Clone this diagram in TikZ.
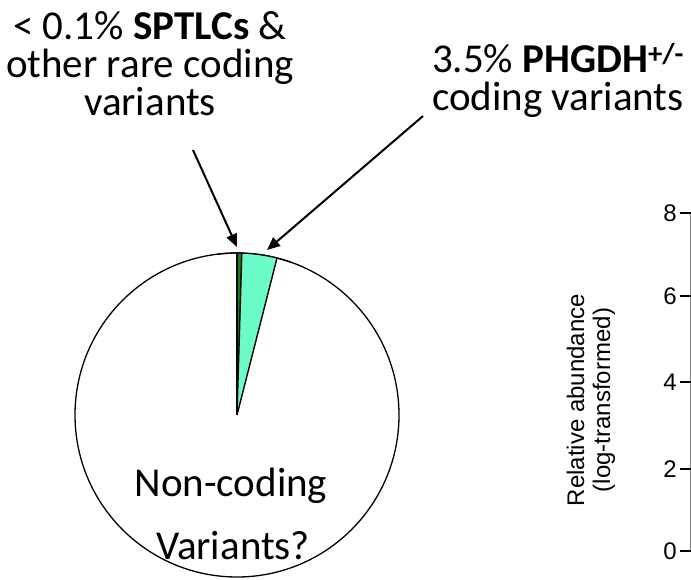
\documentclass[tikz,border=0pt]{standalone}
\usepackage{fontspec}
\setmainfont{Carlito}
\newfontfamily\axisfont{Liberation Sans}
\usetikzlibrary{arrows.meta}
\definecolor{rarecol}{HTML}{1E7D1E}
\definecolor{phgcol}{HTML}{6CFCC8}
\begin{document}
% y grows downwards here, so an angle of -90 points up
\begin{tikzpicture}[x=1pt,y=-1pt,
  callout/.style={font=\fontsize{41}{38}\selectfont, align=center, inner sep=0pt},
  pointer/.style={line width=2pt, -{Triangle[length=13pt,width=11pt]}},
  slice/.style={draw=black, line width=1.4pt},
  ticklab/.style={font=\axisfont\fontsize{24}{24}\selectfont, anchor=east, inner sep=0pt},
  axlab/.style={font=\axisfont\fontsize{24}{26}\selectfont, align=center, rotate=90, inner sep=0pt}]
\useasboundingbox (0,0) rectangle (691,579);

% pie chart
\coordinate (c) at (237,415);
\draw[line width=1.3pt, fill=white] (c) circle[radius=162];
\fill[phgcol] (c) -- ++(-88.3:162) arc[start angle=-88.3, end angle=-75.7, radius=162] -- cycle;
\fill[rarecol] (c) -- ++(-90:162) arc[start angle=-90, end angle=-88.3, radius=162] -- cycle;
\draw[slice] (c) -- ++(-90:162);
\draw[slice] (c) -- ++(-88.3:162);
\draw[slice] (c) -- ++(-75.7:162);
\draw[line width=1.3pt] (c) ++(-97:162) arc[start angle=-97, end angle=-70, radius=162];

% callouts
\node[callout] (rare) at (150,64) {< 0.1\% \textbf{SPTLCs} \&\\other rare coding\\variants};
\node[callout] (phg) at (558,80) {3.5\% \textbf{PHGDH\textsuperscript{+/-}}\\coding variants};
\node[callout] (nonc) at (231,486) {Non-coding};
\node[callout] (varq) at (233,546) {Variants?};

\coordinate (rarepoint) at (237,247);
\coordinate (phgpoint) at (267,250);
\coordinate (rarestart) at (193,150);
\coordinate (phgstart) at (423,116);
\draw[pointer] (rarestart) -- (rarepoint);
\draw[pointer] (phgstart) -- (phgpoint);

% axis
\draw[line width=0.5pt, black!50] (690,213) -- (690,551);
\foreach \v/\y in {8/213,6/296,4/382,2/469,0/551}{
  \node[ticklab] (t\v) at (677,\y) {\v};
  \draw[line width=2.5pt] (680,\y) -- (691,\y);
}
\node[axlab] (ylab) at (591,400) {Relative abundance\\(log-transformed)};
\end{tikzpicture}
\end{document}
